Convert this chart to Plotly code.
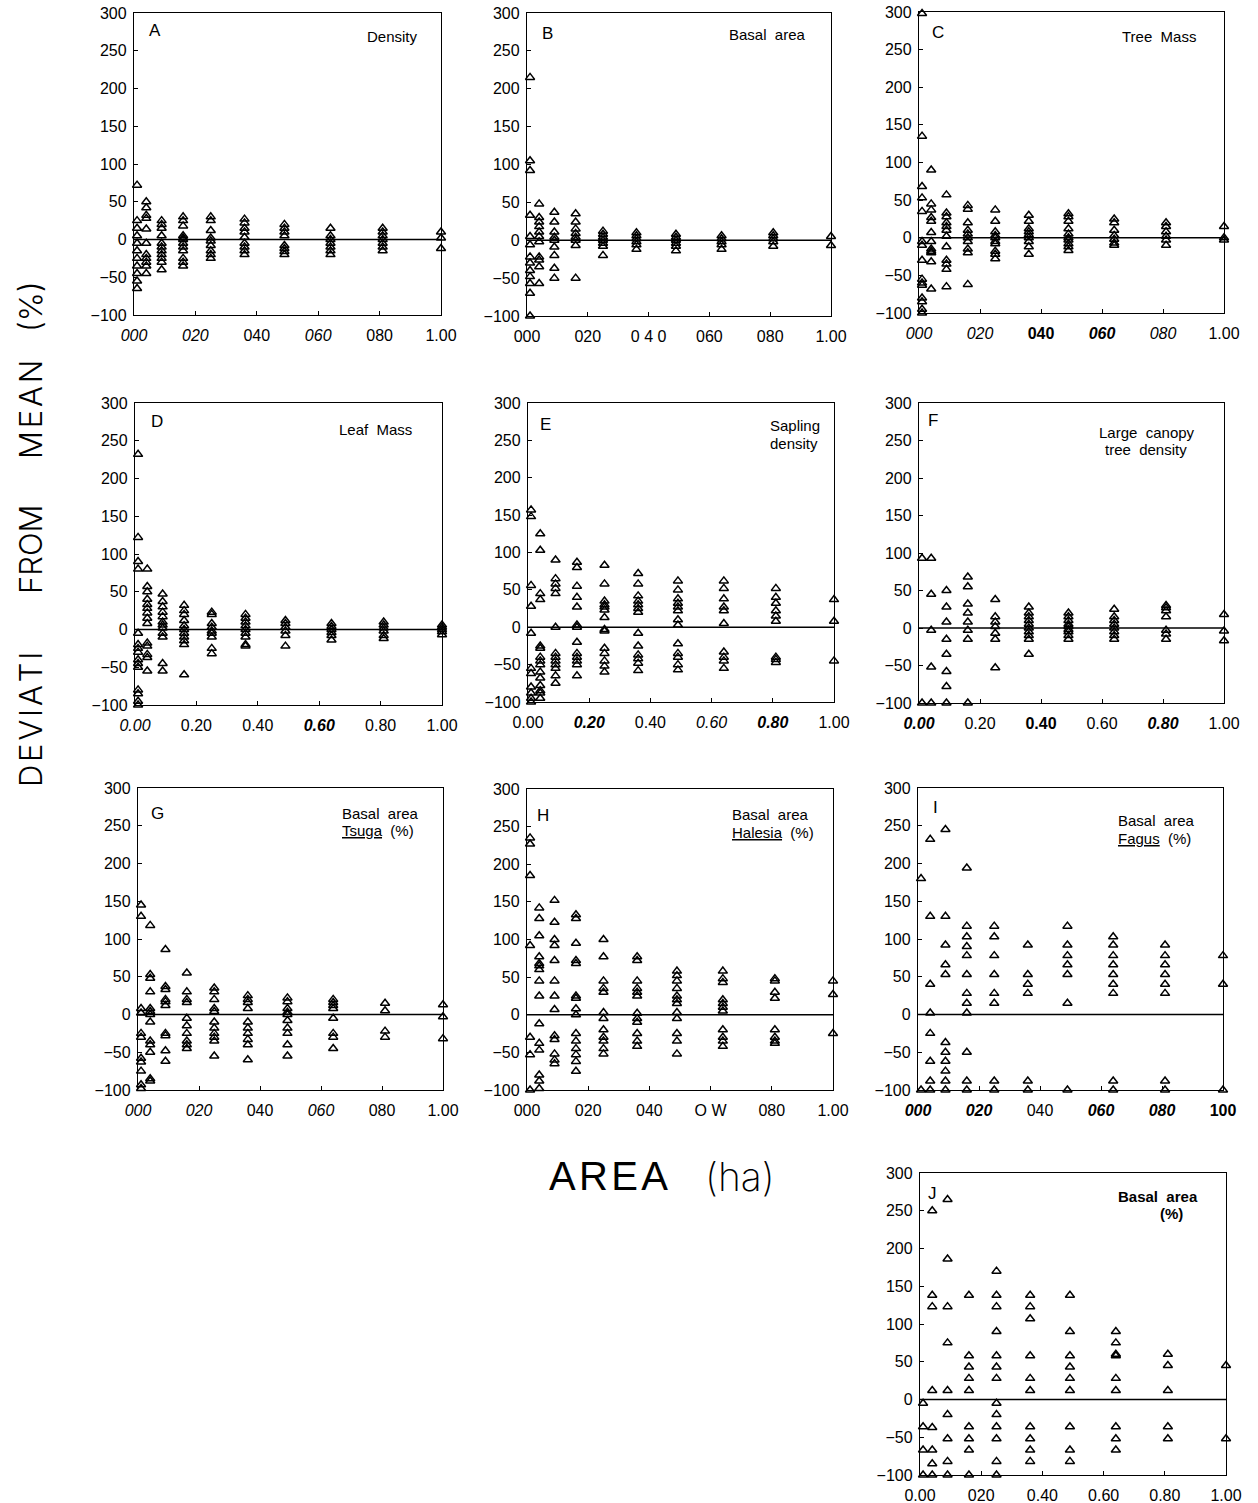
import plotly.graph_objects as go

W, H = 1258, 1503
AREA = [0.01, 0.04, 0.09, 0.16, 0.25, 0.36, 0.49, 0.64, 0.81, 1.00]
Y_TICKS = [-100, -50, 0, 50, 100, 150, 200, 250, 300]
Y_TEXT = ["\u2212100", "\u221250", "0", "50", "100", "150", "200", "250", "300"]
X_TICKS = [0, 0.2, 0.4, 0.6, 0.8, 1.0]

A_density = [
    [72, 25, 15, 5, -5, -15, -25, -35, -45, -55, -65],
    [50, 42, 32, 28, 14, -5, -20, -25, -30, -35, -45],
    [25, 20, 15, 5, -5, -10, -15, -20, -25, -30, -40],
    [30, 25, 18, 5, 2, 0, -5, -10, -15, -25, -30, -35],
    [30, 25, 12, 2, -2, -8, -15, -20, -25],
    [27, 22, 15, 10, 3, -5, -10, -15, -20],
    [20, 15, 10, 5, -8, -12, -16, -20],
    [15, 5, 0, -5, -10, -15, -20],
    [15, 10, 5, 0, -5, -10, -15],
    [10, 2, -12],
]
B_basal = [
    [215, 105, 92, 33, 5, -6, -22, -30, -40, -48, -57, -70, -100],
    [48, 30, 24, 18, 11, 5, -2, -22, -26, -35, -57],
    [37, 24, 11, 4, 0, -9, -20, -37, -50],
    [35, 24, 15, 9, 4, 0, -7, -50],
    [12, 8, 4, 0, -4, -8, -20],
    [10, 6, 2, -2, -6, -12],
    [8, 4, 0, -4, -8, -14],
    [6, 2, -2, -6, -12],
    [10, 6, 2, -2, -8],
    [5, -7],
]
C_treemass = [
    [298, 135, 68, 53, 35, -5, -10, -30, -55, -60, -63, -80, -85, -95, -100],
    [90, 45, 37, 27, 22, 7, -5, -15, -18, -20, -32, -68],
    [57, 33, 28, 20, 15, 10, 2, -12, -30, -35, -42, -65],
    [43, 38, 20, 10, 5, 0, -5, -15, -20, -62],
    [37, 22, 8, 3, 0, -5, -8, -18, -22, -28],
    [30, 22, 12, 8, 4, 0, -5, -12, -22],
    [32, 28, 22, 12, 5, 0, -3, -8, -12, -17],
    [25, 20, 10, 3, -2, -7, -10],
    [20, 15, 8, 2, -3, -10],
    [15, 0, -3],
]
D_leafmass = [
    [232, 122, 90, 80, -5, -20, -25, -30, -40, -45, -50, -80, -85, -95, -100],
    [80, 57, 50, 40, 33, 28, 22, 15, 8, -18, -22, -33, -37, -55],
    [47, 37, 30, 23, 17, 10, 6, 2, -5, -10, -45, -55],
    [32, 25, 20, 12, 5, 0, -5, -10, -15, -20, -60],
    [23, 20, 8, 3, -2, -5, -10, -25, -32],
    [20, 15, 10, 5, 0, -5, -10, -20, -22],
    [12, 8, 3, -2, -8, -22],
    [8, 4, 0, -4, -8, -14],
    [10, 6, 2, -2, -8, -12],
    [6, 3, 0, -3, -7],
]
E_sapling = [
    [157, 148, 56, 28, -8, -55, -62, -80, -88, -95, -100],
    [125, 103, 45, 37, -25, -28, -40, -45, -50, -60, -68, -78, -85, -88, -95],
    [90, 65, 58, 52, 45, 0, -35, -40, -45, -50, -55, -65, -75],
    [87, 80, 55, 40, 27, 3, 0, -20, -35, -40, -45, -50, -65],
    [83, 58, 35, 30, 27, 23, 13, -3, -5, -28, -35, -45, -52, -60],
    [72, 58, 42, 35, 30, 25, 20, -8, -25, -37, -42, -48, -58],
    [62, 50, 38, 32, 27, 22, 10, 3, -22, -35, -40, -50, -57],
    [62, 52, 38, 27, 22, 5, -33, -40, -45, -55],
    [52, 40, 32, 22, 15, 8, -40, -43, -47],
    [37, 8, -45],
]
F_canopy = [
    [93, -100],
    [93, 45, -3, -52, -100],
    [50, 28, 8, -15, -35, -58, -78, -100],
    [68, 55, 32, 20, 8, -3, -15, -100],
    [38, 15, 8, 2, -7, -15, -53],
    [28, 20, 15, 10, 5, 0, -5, -10, -15, -35],
    [20, 15, 10, 5, 2, -2, -5, -10, -15],
    [25, 15, 10, 5, 0, -5, -10, -15],
    [30, 27, 23, 15, -3, -8, -15],
    [18, -4, -17],
]
G_tsuga = [
    [145, 130, 8, 2, -25, -30, -58, -63, -75, -93, -98],
    [118, 53, 48, 30, 8, 4, 0, -10, -35, -40, -50, -85, -88],
    [86, 37, 33, 20, 17, 12, -25, -28, -48, -62],
    [55, 30, 20, 16, -5, -15, -25, -35, -40, -45],
    [35, 30, 20, 8, 4, -10, -18, -25, -30, -35, -55],
    [25, 20, 16, 8, -10, -18, -25, -33, -40, -60],
    [22, 17, 8, 3, 0, -8, -18, -25, -40, -55],
    [20, 16, 12, 8, -5, -25, -30, -45],
    [15, 5, -22, -30],
    [13, -3, -32],
]
H_halesia = [
    [235, 227, 185, 92, -30, -53, -100],
    [142, 128, 105, 77, 68, 65, 60, 45, 25, -12, -38, -47, -80, -88, -98],
    [152, 123, 100, 92, 72, 45, 25, 7, -28, -33, -52, -60, -65],
    [133, 128, 95, 72, 68, 25, 22, 8, 0, -25, -35, -45, -53, -62, -75],
    [100, 77, 45, 35, 30, 3, -5, -20, -30, -35, -45, -52],
    [77, 72, 45, 35, 30, 25, 2, -5, -10, -25, -35, -42],
    [58, 52, 45, 35, 25, 20, 15, 3, -5, -25, -35, -52],
    [58, 48, 43, 20, 15, 10, 5, -20, -30, -35, -42],
    [48, 45, 30, 22, -20, -30, -35, -38],
    [45, 27, -25],
]
I_fagus = [
    [180, -100],
    [232, 130, 40, 2, -25, -62, -88, -100],
    [245, 130, 92, 66, 53, -37, -50, -62, -75, -88, -100],
    [194, 117, 103, 90, 78, 53, 28, 15, 2, -50, -88, -100],
    [117, 103, 78, 53, 28, 15, -88, -100],
    [92, 53, 40, 28, -88, -100],
    [117, 92, 78, 66, 53, 15, -100],
    [103, 92, 78, 66, 53, 40, 28, -88, -100],
    [92, 78, 66, 53, 40, 28, -88, -100],
    [78, 40, -100],
]
J_basal = [
    [-5, -36, -67, -100],
    [250, 138, 123, 12, -37, -67, -85, -100],
    [265, 186, 123, 75, 12, -20, -52, -82, -100],
    [138, 58, 43, 28, 12, -36, -52, -67, -100],
    [170, 138, 123, 90, 58, 43, 28, -5, -20, -36, -52, -82, -100],
    [138, 123, 107, 58, 28, 12, -36, -52, -67, -82],
    [138, 90, 58, 43, 28, 12, -36, -67, -82],
    [90, 75, 60, 58, 28, 12, -36, -52, -67],
    [60, 45, 12, -36, -52],
    [45, -52],
]

I_, B_, BI = "<i>%s</i>", "<b>%s</b>", "<b><i>%s</i></b>"
PANELS = [
    dict(data=A_density, box=(134, 441, 13, 315), letter=("A", 155, 31),
         labels=[(365, 37, "Density")],
         xt=[I_ % "000", I_ % "020", "040", I_ % "060", "080", "1.00"]),
    dict(data=B_basal, box=(527, 831, 13, 316), letter=("B", 547, 33),
         labels=[(727, 35, "Basal  area")],
         xt=["000", "020", "0 4 0", "060", "080", "1.00"]),
    dict(data=C_treemass, box=(919, 1224, 12, 313), letter=("C", 938, 32),
         labels=[(1120, 37, "Tree  Mass")],
         xt=[I_ % "000", I_ % "020", B_ % "040", BI % "060", I_ % "080", "1.00"]),
    dict(data=D_leafmass, box=(135, 442, 403, 705), letter=("D", 157, 422),
         labels=[(337, 429, "Leaf  Mass")],
         xt=[I_ % "0.00", "0.20", "0.40", BI % "0.60", "0.80", "1.00"]),
    dict(data=E_sapling, box=(528, 834, 403, 702), letter=("E", 545, 425),
         labels=[(768, 426, "Sapling"), (768, 443, "density")],
         xt=["0.00", BI % "0.20", "0.40", I_ % "0.60", BI % "0.80", "1.00"]),
    dict(data=F_canopy, box=(919, 1224, 403, 703), letter=("F", 933, 420),
         labels=[(1097, 432, "Large  canopy"), (1103, 449, "tree  density")],
         xt=[BI % "0.00", "0.20", B_ % "0.40", "0.60", BI % "0.80", "1.00"]),
    dict(data=G_tsuga, box=(138, 443, 788, 1090), letter=("G", 158, 813),
         labels=[(340, 813, "Basal  area"), (340, 831, "<u>Tsuga</u>  (%)")],
         xt=[I_ % "000", I_ % "020", "040", I_ % "060", "080", "1.00"]),
    dict(data=H_halesia, box=(527, 833, 789, 1090), letter=("H", 543, 815),
         labels=[(730, 814, "Basal  area"), (730, 832, "<u>Halesia</u>  (%)")],
         xt=["000", "020", "040", "O W", "080", "1.00"]),
    dict(data=I_fagus, box=(918, 1223, 788, 1090), letter=("I", 935, 807),
         labels=[(1116, 820, "Basal  area"), (1116, 838, "<u>Fagus</u>  (%)")],
         xt=[BI % "000", BI % "020", "040", BI % "060", BI % "080", B_ % "100"]),
    dict(data=J_basal, box=(920, 1226, 1173, 1475), letter=("J", 933, 1193),
         labels=[(1116, 1196, "<b>Basal  area</b>"), (1158, 1213, "<b>(%)</b>")],
         xt=["0.00", "020", "0.40", "0.60", "0.80", "1.00"]),
]

FONT = "Liberation Sans, Arial, sans-serif"
fig = go.Figure()
annotations = []
layout = {}

for i, p in enumerate(PANELS, start=1):
    sfx = "" if i == 1 else str(i)
    xa, ya = "x" + sfx, "y" + sfx
    l, r, t, b = p["box"]
    xs, ys = [], []
    for a, col in zip(AREA, p["data"]):
        xs += [a] * len(col)
        ys += col
    fig.add_trace(go.Scatter(x=[0, 1], y=[0, 0], mode="lines", xaxis=xa, yaxis=ya,
                             line=dict(color="black", width=1.3), hoverinfo="skip"))
    fig.add_trace(go.Scatter(x=xs, y=ys, mode="markers", xaxis=xa, yaxis=ya, cliponaxis=False,
                             marker=dict(symbol="triangle-up-open", size=8, color="black",
                                         line=dict(width=1.5, color="black"))))
    common = dict(showline=True, mirror=True, linecolor="black", linewidth=1.3,
                  ticks="inside", ticklen=4, tickcolor="black", showgrid=False,
                  zeroline=False, automargin=False,
                  tickfont=dict(family=FONT, size=16, color="black"))
    layout["xaxis" + sfx] = dict(domain=[l / W, r / W], range=[0, 1], anchor=ya,
                                 tickvals=X_TICKS, ticktext=p["xt"], ticklabelstandoff=6, **common)
    layout["yaxis" + sfx] = dict(domain=[1 - b / H, 1 - t / H], range=[-100, 300], anchor=xa,
                                 tickvals=Y_TICKS, ticktext=Y_TEXT, ticklabelstandoff=3, **common)
    lt, lx, ly = p["letter"]
    annotations.append(dict(text=lt, x=lx / W, y=1 - ly / H, xref="paper", yref="paper",
                            xanchor="center", yanchor="middle", showarrow=False,
                            font=dict(family=FONT, size=17, color="black")))
    for (tx, ty, tt) in p["labels"]:
        annotations.append(dict(text=tt, x=tx / W, y=1 - ty / H, xref="paper", yref="paper",
                                xanchor="left", yanchor="middle", showarrow=False,
                                font=dict(family=FONT, size=15, color="black")))

THIN = "Inter, Liberation Sans, sans-serif"
HS = "\u200a"
for word, yc in [("D" + HS + "E" + HS + "V" + HS + "I" + HS + "A" + HS + "T" + HS + "I", 720),
                 ("FROM", 550), ("M" + HS + "E" + HS + "A" + HS + "N", 410), ("(%)", 307)]:
    annotations.append(dict(text=word, x=30 / W, y=1 - yc / H, xref="paper", yref="paper",
                            textangle=-90, xanchor="center", yanchor="middle", showarrow=False,
                            font=dict(family=THIN, size=31, color="black", weight=300)))
annotations.append(dict(text="A" + HS + "R" + HS + "E" + HS + "A", x=608 / W, y=1 - 1176 / H,
                        xref="paper", yref="paper", xanchor="center", yanchor="middle",
                        showarrow=False, font=dict(family=FONT, size=40, color="black")))
annotations.append(dict(text="(ha)", x=740 / W, y=1 - 1176 / H, xref="paper", yref="paper",
                        xanchor="center", yanchor="middle", showarrow=False,
                        font=dict(family=THIN, size=39, color="black", weight=200)))

fig.update_layout(width=W, height=H, margin=dict(l=0, r=0, t=0, b=0, autoexpand=False),
                  paper_bgcolor="white", plot_bgcolor="white", showlegend=False,
                  annotations=annotations, **layout)
fig.write_html("out.html", config={"displayModeBar": False},
               post_script="document.body.style.margin='0';document.body.style.padding='0';")
